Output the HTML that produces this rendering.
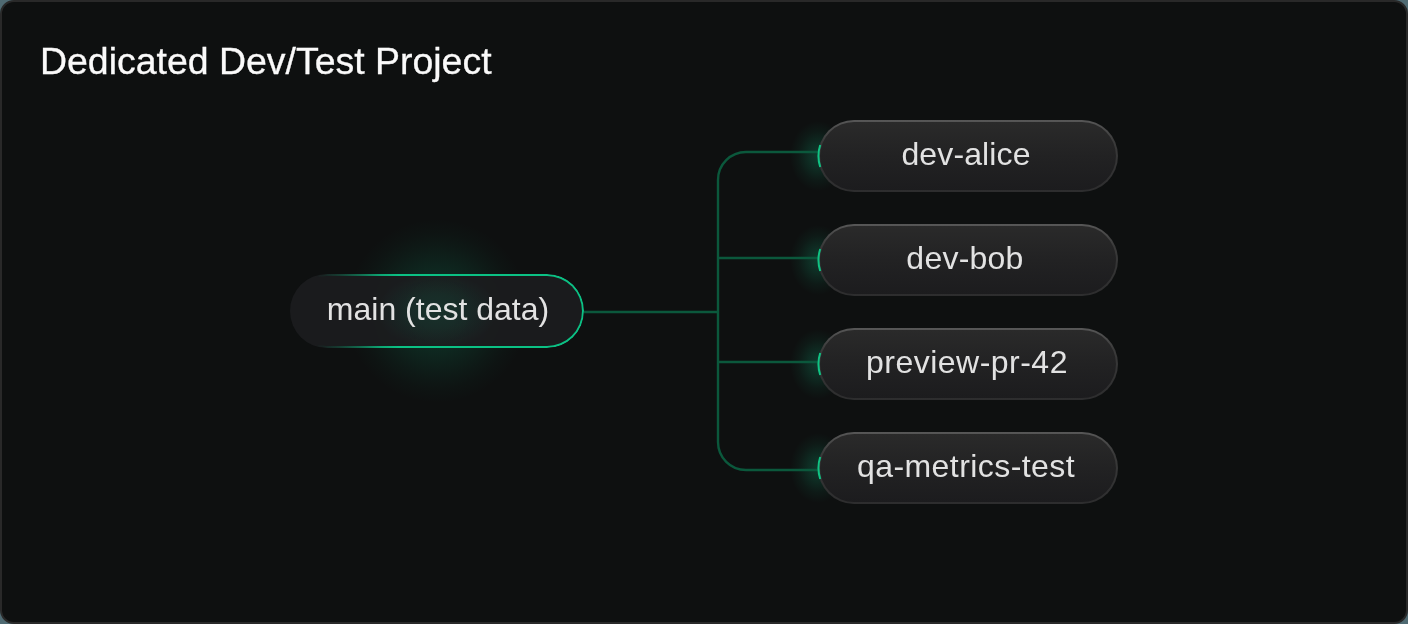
<!DOCTYPE html>
<html><head><meta charset="utf-8">
<style>
html,body{margin:0;padding:0;width:1408px;height:624px;overflow:hidden;background:#4f6a72;position:relative;}
*{box-sizing:border-box;}
.frame{position:absolute;left:0;top:0;width:1408px;height:624px;border-radius:14px;border:2px solid #292929;background:#0e1010;}
.title{will-change:transform;position:absolute;left:40px;top:43px;font-family:"Liberation Sans",sans-serif;font-size:37.45px;color:#fafafa;white-space:nowrap;line-height:1;-webkit-text-stroke:0.3px #fafafa;}
.glow{position:absolute;left:345px;top:219px;width:184px;height:184px;border-radius:50%;
  background:radial-gradient(closest-side at center, rgba(16,185,129,0.21) 0%, rgba(16,185,129,0.15) 40%, rgba(16,185,129,0.09) 60%, rgba(16,185,129,0.055) 72%, rgba(16,185,129,0.025) 85%, rgba(16,185,129,0) 100%);}
.main{position:absolute;left:290px;top:274px;width:294px;height:74px;border-radius:37px;background:rgba(27,28,30,0.93);}
.ring{position:absolute;left:0;top:0;right:0;bottom:0;border-radius:inherit;padding:2px;
  background:linear-gradient(90deg, rgba(11,193,132,0) 0%, rgba(11,193,132,0) 9%, rgba(11,193,132,0.18) 16%, rgba(11,193,132,0.5) 24%, rgba(11,193,132,0.85) 31%, #0bc184 37%, #0bc184 100%);
  -webkit-mask:linear-gradient(#000 0 0) content-box, linear-gradient(#000 0 0);
  -webkit-mask-composite:xor;mask-composite:exclude;}
.lbl{will-change:transform;position:absolute;left:0;right:0;text-align:center;font-family:"Liberation Sans",sans-serif;font-size:32px;color:#e2e2e2;white-space:nowrap;line-height:1;top:19px;}
.child{position:absolute;left:818px;width:300px;height:72px;border-radius:36px;padding:2px;
  background:linear-gradient(180deg,#575757 0%,#3a3a3a 30%,#2d2d2e 100%);}
.child .in{width:100%;height:100%;border-radius:34px;background:linear-gradient(180deg,#2a2a2a 0%,#222223 50%,#1c1c1e 100%);position:relative;}
.child .lbl{top:16px;}
.cglow{position:absolute;width:56px;height:70px;
  background:radial-gradient(closest-side at center, rgba(16,185,129,0.26) 0%, rgba(16,185,129,0.17) 35%, rgba(16,185,129,0.06) 70%, rgba(16,185,129,0) 100%);}
svg{position:absolute;left:0;top:0;}
.iglow{position:absolute;left:87px;top:-1px;width:120px;height:76px;background:radial-gradient(closest-side at center, rgba(16,185,129,0.13) 0%, rgba(16,185,129,0.09) 45%, rgba(16,185,129,0.03) 80%, rgba(16,185,129,0) 100%);}
</style></head>
<body>
<div class="frame"></div>
<div class="title">Dedicated Dev/Test Project</div>
<div class="glow"></div>
<div class="cglow" style="left:790px;top:120px;margin-top:1px"></div>
<div class="cglow" style="left:790px;top:224px;margin-top:1px"></div>
<div class="cglow" style="left:790px;top:328px;margin-top:1px"></div>
<div class="cglow" style="left:790px;top:432px;margin-top:1px"></div>
<svg width="1408" height="624" viewBox="0 0 1408 624">
  <g fill="none" stroke="#0b583c" stroke-width="2.4">
    <path d="M584 312 H718"/>
    <path d="M820 152 H746 A28 28 0 0 0 718 180 V442 A28 28 0 0 0 746 470 H820"/>
    <path d="M718 258 H820"/>
    <path d="M718 362 H820"/>
  </g>
</svg>
<div class="main"><div class="iglow"></div><div class="ring"></div><div class="lbl" style="left:1px;right:-1px">main (test data)</div></div>
<div class="child" style="top:120px"><div class="in"><div class="lbl" style="letter-spacing:0.12px;left:-2px;right:2px">dev-alice</div></div></div>
<div class="child" style="top:224px"><div class="in"><div class="lbl" style="letter-spacing:0.23px;left:-3px;right:3px">dev-bob</div></div></div>
<div class="child" style="top:328px"><div class="in"><div class="lbl" style="letter-spacing:0.48px;left:-1px;right:1px">preview-pr-42</div></div></div>
<div class="child" style="top:432px"><div class="in"><div class="lbl" style="letter-spacing:0.43px;left:-2px;right:2px">qa-metrics-test</div></div></div>
<svg width="1408" height="624" viewBox="0 0 1408 624">
  <g fill="none" stroke="#10c383" stroke-width="2">
    <path d="M820.2 145 A36 36 0 0 0 820.2 167"/>
    <path d="M820.2 249 A36 36 0 0 0 820.2 271"/>
    <path d="M820.2 353 A36 36 0 0 0 820.2 375"/>
    <path d="M820.2 457 A36 36 0 0 0 820.2 479"/>
  </g>
</svg>
</body></html>
